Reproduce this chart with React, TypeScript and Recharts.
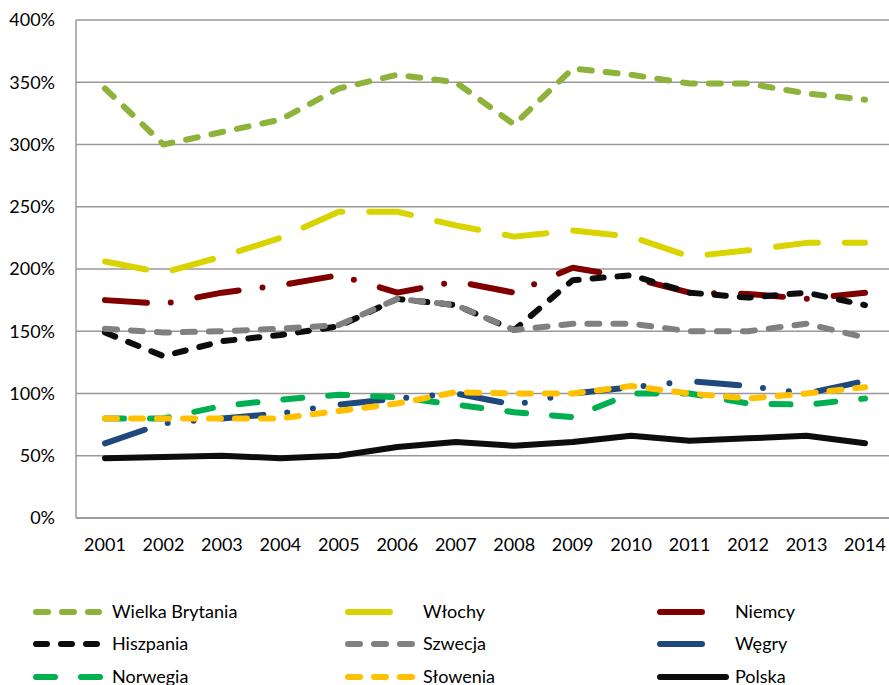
import React from 'react';
import { LineChart, Line, XAxis, YAxis, CartesianGrid } from 'recharts';

const years = ['2001', '2002', '2003', '2004', '2005', '2006', '2007', '2008', '2009', '2010', '2011', '2012', '2013', '2014'];
const yTicks = [0, 50, 100, 150, 200, 250, 300, 350, 400];

const wielkaBrytania = [345, 300, 310, 320, 345, 356, 350, 316, 361, 356, 349, 349, 341, 336];
const wlochy = [206, 197, 210, 225, 246, 246, 235, 226, 231, 226, 210, 215, 221, 221];
const niemcy = [175, 172, 181, 187, 195, 181, 190, 181, 201, 193, 181, 180, 176, 181];
const hiszpania = [149, 130, 142, 147, 154, 176, 171, 151, 191, 195, 181, 177, 181, 171];
const szwecja = [152, 149, 150, 152, 155, 176, 171, 151, 156, 156, 150, 150, 156, 145];
const wegry = [60, 76, 80, 84, 91, 96, 100, 91, 100, 105, 110, 106, 100, 110];
const norwegia = [80, 80, 90, 95, 99, 97, 91, 85, 81, 100, 100, 92, 91, 96];
const slowenia = [80, 80, 80, 80, 86, 92, 101, 100, 100, 106, 100, 96, 100, 105];
const polska = [48, 49, 50, 48, 50, 57, 61, 58, 61, 66, 62, 64, 66, 60];

const series = [
  { key: 'wb', name: 'Wielka Brytania', values: wielkaBrytania, color: '#8DB33B', dash: '12 14', legendLen: 69 },
  { key: 'wl', name: 'Włochy', values: wlochy, color: '#D9D400', dash: '42 27', legendLen: 51 },
  { key: 'ni', name: 'Niemcy', values: niemcy, color: '#800000', dash: '42 24 0 27', legendLen: 50 },
  { key: 'hi', name: 'Hiszpania', values: hiszpania, color: '#0D0D0D', dash: '11 14', legendLen: 69 },
  { key: 'sz', name: 'Szwecja', values: szwecja, color: '#808080', dash: '12 14', legendLen: 70 },
  { key: 'we', name: 'Węgry', values: wegry, color: '#1F497D', dash: '42 24 0 26 0 28', legendLen: 50 },
  { key: 'no', name: 'Norwegia', values: norwegia, color: '#00B050', dash: '19 26', legendLen: 70 },
  { key: 'sl', name: 'Słowenia', values: slowenia, color: '#FFC000', dash: '12 14', legendLen: 70 },
  { key: 'po', name: 'Polska', values: polska, color: '#0D0D0D', dash: undefined, legendLen: 72 },
];

const data = years.map((year, i) => {
  const row: Record<string, string | number> = { year };
  series.forEach((s) => {
    row[s.key] = s.values[i];
  });
  return row;
});

const font = 'Lato, "Noto Sans", sans-serif';
const colX = [33, 345, 657];
const labelX = [112, 423, 735];
const rowY = [612, 644, 677];

function Legend() {
  return (
    <svg width={889} height={685} style={{ position: 'absolute', left: 0, top: 0, pointerEvents: 'none' }}>
      {series.map((s, i) => {
        const col = i % 3;
        const row = Math.floor(i / 3);
        const y = rowY[row];
        return (
          <g key={s.key}>
            <line
              x1={colX[col] + 3}
              x2={colX[col] + s.legendLen - 3}
              y1={y}
              y2={y}
              stroke={s.color}
              strokeWidth={6}
              strokeLinecap="round"
              strokeDasharray={s.dash}
            />
            <text x={labelX[col]} y={y} dy="0.35em" fontFamily={font} fontSize={18} fill="#000">
              {s.name}
            </text>
          </g>
        );
      })}
    </svg>
  );
}

export default function App() {
  return (
    <div style={{ position: 'absolute', left: 0, top: 0, width: 889, height: 685, overflow: 'hidden', background: '#fff' }}>
      <LineChart width={889} height={685} data={data} margin={{ top: 20, right: 0, bottom: 0, left: 0 }}>
        <CartesianGrid vertical={false} stroke="#989898" strokeWidth={1.5} />
        <XAxis
          dataKey="year"
          height={167}
          padding={{ left: 29, right: 24 }}
          tickLine={false}
          tickSize={0}
          tickMargin={20}
          axisLine={{ stroke: '#989898', strokeWidth: 1.5 }}
          tick={{ fill: '#000', fontSize: 18, fontFamily: font }}
          interval={0}
        />
        <YAxis
          width={76}
          domain={[0, 400]}
          ticks={yTicks}
          tickFormatter={(v: number) => `${v}%`}
          tickLine={false}
          tickSize={0}
          tickMargin={21}
          axisLine={{ stroke: '#989898', strokeWidth: 1.5 }}
          tick={{ fill: '#000', fontSize: 18, fontFamily: font }}
          interval={0}
        />
        {series.map((s) => (
          <Line
            key={s.key}
            dataKey={s.key}
            name={s.name}
            type="linear"
            stroke={s.color}
            strokeWidth={6}
            strokeDasharray={s.dash}
            strokeLinecap="round"
            strokeLinejoin="round"
            dot={false}
            activeDot={false}
            isAnimationActive={false}
          />
        ))}
      </LineChart>
      <Legend />
    </div>
  );
}
